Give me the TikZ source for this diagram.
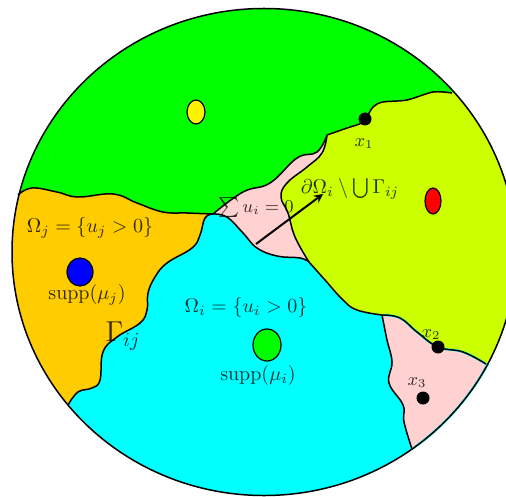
\documentclass[tikz,border=0pt]{standalone}
\tikzset{
  edgeline/.style={line width=0.75pt, black},
  spot/.style={draw=black, line width=0.6pt},
  lbl/.style={font=\small, inner sep=0pt, text opacity=0.8},
  biglbl/.style={lbl, font=\normalsize},
}
\definecolor{limeyellow}{RGB}{204,255,0}
\definecolor{orangefill}{RGB}{255,204,0}
\definecolor{pinkfill}{RGB}{255,209,209}
\definecolor{cyanfill}{RGB}{0,255,255}
\begin{document}
\begin{tikzpicture}[x=0.5pt, y=-0.5pt, >=stealth]

  \useasboundingbox (0,0) rectangle (506,496);

  % --- 1. 境界の定義 (引数は -- または空) ---
  \def\bdGreenOrange#1{#1 plot[smooth, tension=0.7] coordinates {
      (18,195) (32,188) (57,192) (78,197) (113,194) (137,203) (163,212) (187,213) (213,214)}}
  \def\bdOrangeCyan#1{#1 plot[smooth, tension=0.7] coordinates {
      (213,214) (205,218) (200,235) (192,248) (167,263) (155,277) (148,293) (147,310)
      (140,323) (117,337) (103,352) (100,380) (92,388) (78,392) (68,405)}}
  \def\bdGreenPink#1{#1 plot[smooth, tension=0.7] coordinates {
      (213,214) (243,192) (270,183) (297,158) (317,152) (327,135)}}
  \def\bdGreenLime#1{#1 plot[smooth, tension=0.5] coordinates {
      (327,135) (347,128) (363,122) (373,107) (383,102) (407,100) (433,92) (452,93)}}
  \def\bdPinkLime#1{#1 plot[smooth, tension=0.7] coordinates {
      (327,135) (322,153) (307,167) (287,183) (281,197) (288,213) (295,237) (309,262)}}
  \def\bdCyanPink#1{#1 plot[smooth, tension=0.7] coordinates {
      (213,214) (227,217) (243,233) (257,248) (277,256) (300,258) (309,262)}}
  \def\bdCyanLime#1{#1 plot[smooth, tension=0.7] coordinates {
      (309,262) (325,280) (343,300) (357,310) (382,315)}}
  \def\bdLimePink#1{#1 plot[smooth, tension=0.7] coordinates {
      (382,315) (400,318) (417,332) (438,347) (463,352) (486,364)}}
  \def\bdCyanPinkLow#1{#1 plot[smooth, tension=0.7] coordinates {
      (382,315) (387,340) (392,362) (389,383) (403,405) (404,422) (412,449)}}

  % --- 2. 領域の塗りつぶし ---
  \begin{scope}
    \clip (264,252) ellipse [x radius=252, y radius=243.5];
    \fill[cyanfill] (0,0) rectangle (520,510);
    \fill[orangefill] \bdOrangeCyan{} -- (0,420) -- (0,150) -- cycle;
    \fill[pinkfill] \bdCyanPink{} -- (327,135) -- (270,140) -- cycle;
    \fill[pinkfill] \bdCyanPinkLow{} -- (520,470) -- (520,300) -- (382,300) -- cycle;
    \fill[limeyellow] \bdCyanLime{} \bdLimePink{--} -- (520,380) -- (520,0) -- (327,60) \bdPinkLime{--} -- cycle;
    \fill[green] \bdGreenOrange{} \bdGreenPink{--} \bdGreenLime{--} -- (500,50) -- (500,0) -- (0,0) -- (0,195) -- cycle;
  \end{scope}

  % 右下の領域の縁 (水色)
  \draw[cyanfill, line width=1.1pt] \bdLimePink{};
  \begin{scope}
    \clip (486,364) -- (520,364) -- (520,470) -- (412,449) -- cycle;
    \draw[cyanfill, line width=1.1pt] (264,252) ellipse [x radius=252, y radius=243.5];
  \end{scope}

  % --- 3. 境界線 ---
  \draw[edgeline] (264,252) ellipse [x radius=252, y radius=243.5];
  \draw[edgeline] \bdGreenOrange{};
  \draw[edgeline] \bdOrangeCyan{};
  \draw[edgeline] \bdGreenPink{};
  \draw[edgeline] \bdGreenLime{};
  \draw[edgeline] \bdPinkLime{};
  \draw[edgeline] \bdCyanPink{};
  \draw[edgeline] \bdCyanLime{};
  \draw[edgeline] \bdLimePink{};
  \draw[edgeline] \bdCyanPinkLow{};

  % 台 (supp)
  \draw[spot, fill=yellow] (196,112) ellipse [x radius=9, y radius=12];
  \draw[spot, fill=red] (433,201) ellipse [x radius=8, y radius=13];
  \draw[spot, fill=blue] (80,272) ellipse [x radius=13, y radius=14];
  \draw[spot, fill=green] (267,345) ellipse [x radius=14, y radius=16];

  % 点 x1, x2, x3
  \fill (365,119) circle [radius=6.5];
  \fill (438,347) circle [radius=6.5];
  \fill (423,398) circle [radius=6.5];

  % --- 4. ラベル ---
  \node[biglbl] (omegaj) at (90,228) {$\Omega_j=\{u_j>0\}$};
  \node[biglbl] (suppj) at (87,295) {$\mathrm{supp}(\mu_j)$};
  \node[lbl, font=\Large] (gammaij) at (123,336) {$\Gamma_{ij}$};
  \node[biglbl] (omegai) at (246,307) {$\Omega_i=\{u_i>0\}$};
  \node[biglbl] (suppi) at (258,375) {$\mathrm{supp}(\mu_i)$};
  \node[lbl] (sumzero) at (256,208) {$\sum u_i=0$};
  \node[biglbl] (domega) at (350,189) {$\partial\Omega_i\setminus\bigcup\Gamma_{ij}$};
  \node[lbl] (xone) at (364,144) {$x_1$};
  \node[lbl] (xtwo) at (431,335) {$x_2$};
  \node[lbl] (xthree) at (417,383) {$x_3$};

  % 矢印
  \coordinate (arrowstart) at (256,244);
  \coordinate (arrowend) at (323,194);
  \draw[->, line width=1pt] (arrowstart) -- (arrowend);

\end{tikzpicture}
\end{document}
